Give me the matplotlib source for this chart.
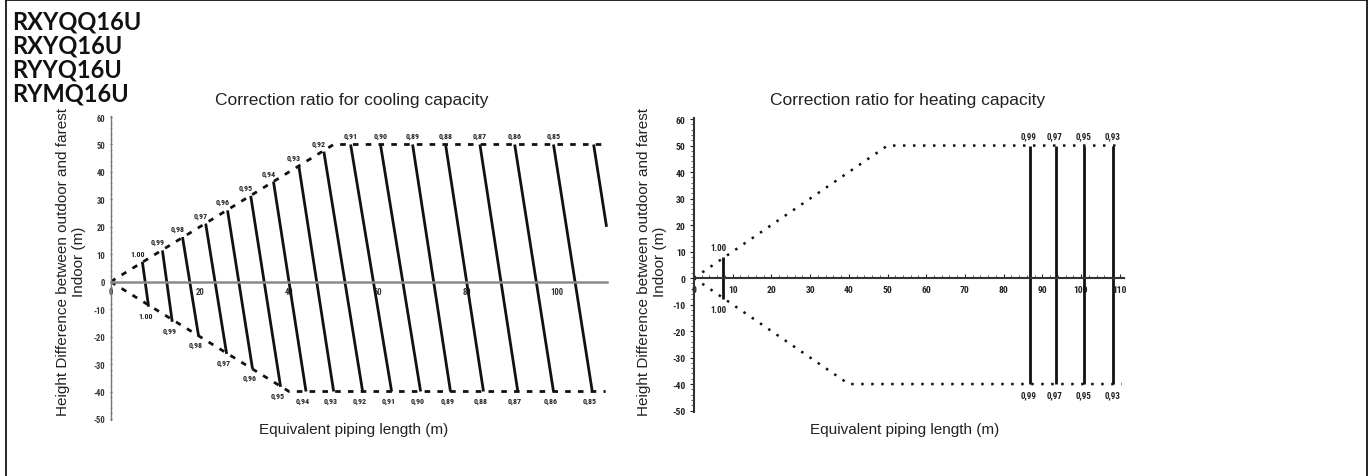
import matplotlib
matplotlib.use("Agg")
import matplotlib.pyplot as plt
from matplotlib import font_manager as fm
from matplotlib.lines import Line2D

avail = {f.name for f in fm.fontManager.ttflist}
def pick(*names):
    for n in names:
        if n in avail:
            return n
    return "DejaVu Sans"

SANS = pick("Liberation Sans", "Arial", "DejaVu Sans")
NARROW = pick("Liberation Sans Narrow", "DejaVu Sans Condensed", "Roboto Condensed", "Liberation Sans")
HEAD = pick("Lato", "Open Sans", "DejaVu Sans")

# ---------------- data ----------------
models = ["RXYQQ16U", "RXYQ16U", "RYYQ16U", "RYMQ16U"]

cool_title = "Correction ratio for cooling capacity"
heat_title = "Correction ratio for heating capacity"
xlabel_txt = "Equivalent piping length (m)"
ylabel_txt = "Height Difference between outdoor and farest\nIndoor (m)"

# cooling correction lines (top end / bottom end)
cool_labels = ["1.00", "0,99", "0,98", "0,97", "0,96", "0,95", "0,94", "0,93",
               "0,92", "0,91", "0,90", "0,89", "0,88", "0,87", "0,86", "0,85"]
cool_top_x = [7.1, 11.6, 16.1, 21.3, 26.2, 31.4, 36.5, 42.2, 47.8, 53.8,
              60.5, 67.7, 75.1, 82.8, 90.6, 99.3]
cool_top_y = [7.3, 11.4, 16.3, 21.2, 26.0, 31.3, 36.5, 42.0, 47.4, 50.0,
              50.0, 50.0, 50.0, 50.0, 50.0, 50.0]
cool_bot_x = [8.5, 13.8, 19.7, 26.0, 31.8, 38.1, 43.8, 50.0, 56.5, 63.0,
              69.5, 76.2, 83.6, 91.3, 99.3, 108.0]
cool_bot_y = [-9.1, -14.6, -19.7, -26.3, -31.7, -38.3, -40.0, -40.0, -40.0, -40.0,
              -40.0, -40.0, -40.0, -40.0, -40.0, -40.0]
# partial unlabeled line at right edge
cool_extra_x = [108.3, 111.2]
cool_extra_y = [50.0, 20.0]

cool_upper_x = [0, 50, 110.5]
cool_upper_y = [0, 50, 50]
cool_lower_x = [0, 40, 111]
cool_lower_y = [0, -40, -40]

cool_xticks = [0, 20, 40, 60, 80, 100]
cool_yticks = [60, 50, 40, 30, 20, 10, 0, -10, -20, -30, -40, -50]

# heating correction lines
heat_labels = ["1.00", "0,99", "0,97", "0,95", "0,93"]
heat_x = [7.4, 86.8, 93.5, 100.8, 108.3]
heat_top_y = [8.0, 50.0, 50.0, 50.0, 50.0]
heat_bot_y = [-8.0, -40.0, -40.0, -40.0, -40.0]

heat_upper_x = [0, 50, 110.5]
heat_upper_y = [0, 50, 50]
heat_lower_x = [0, 40, 110.5]
heat_lower_y = [0, -40, -40]

heat_xticks = [0, 10, 20, 30, 40, 50, 60, 70, 80, 90, 100, 110]
heat_yticks = [60, 50, 40, 30, 20, 10, 0, -10, -20, -30, -40, -50]

# ---------------- figure ----------------
W, H = 1370, 477
fig = plt.figure(figsize=(W / 100, H / 100), dpi=100)
fig.patch.set_facecolor("white")

def px(x0, y0, x1, y1):
    return [x0 / W, 1 - y1 / H, (x1 - x0) / W, (y1 - y0) / H]

# border
fig.add_artist(Line2D([6 / W, 6 / W], [0, 1], transform=fig.transFigure, color="black", lw=1.2))
fig.add_artist(Line2D([1367 / W, 1367 / W], [0, 1], transform=fig.transFigure, color="black", lw=1.2))
fig.add_artist(Line2D([6 / W, 1367 / W], [1 - 1 / H, 1 - 1 / H], transform=fig.transFigure, color="black", lw=1.2))

# model names
for i, m in enumerate(models):
    fig.text(12 / W, 1 - (22 + 24 * i) / H, m, fontsize=17, fontweight="bold",
             family=HEAD, va="center", ha="left", color="#111111")

cool_tick_font = dict(family=NARROW, fontweight="bold", fontsize=6.2)
heat_tick_font = dict(family=NARROW, fontweight="bold", fontsize=6.8)
cool_lab_font = dict(family=NARROW, fontweight="bold", fontsize=5.8)
heat_lab_font = dict(family=NARROW, fontweight="bold", fontsize=6.5)

# ---------- cooling ----------
ax1 = fig.add_axes(px(110.7, 115.3, 607.0, 422.7))
ax1.set_xlim(0, 111.3)
ax1.set_ylim(-51, 61)
for s in ["top", "right"]:
    ax1.spines[s].set_visible(False)
ax1.spines["bottom"].set_position(("data", 0))
ax1.spines["bottom"].set_color("#8a8a8a")
ax1.spines["bottom"].set_linewidth(1.8)
ax1.spines["left"].set_color("#777777")
ax1.spines["left"].set_linewidth(1.0)
ax1.spines["left"].set_linestyle((0, (1, 1)))
ax1.spines["left"].set_bounds(-50.5, 60.5)
ax1.set_xticks(cool_xticks)
ax1.set_xticklabels([str(t) for t in cool_xticks], **cool_tick_font)
ax1.set_yticks(cool_yticks)
ax1.set_yticklabels([str(t) for t in cool_yticks], **cool_tick_font)
ax1.tick_params(axis="x", length=0, pad=4, colors="#333333")
ax1.tick_params(axis="y", length=2, width=0.6, pad=3, colors="#333333", direction="inout")
ax1.set_yticks(range(-50, 61, 2), minor=True)
ax1.tick_params(axis="y", which="minor", length=2, width=0.5, direction="inout", color="#888888")
ax1.patch.set_alpha(0)

ax1.plot(cool_upper_x, cool_upper_y, color="#111111", lw=2.0, ls=(0, (2, 2.6)))
ax1.plot(cool_lower_x, cool_lower_y, color="#111111", lw=2.0, ls=(0, (2, 2.6)))
for lab, tx, ty, bx, by in zip(cool_labels, cool_top_x, cool_top_y, cool_bot_x, cool_bot_y):
    ax1.plot([tx, bx], [ty, by], color="#111111", lw=2.0, solid_capstyle="butt")
    if ty < 50:
        off = (-5, 5)
    else:
        off = (0, 5)
    ax1.annotate(lab, (tx, ty), xytext=off, textcoords="offset pixels",
                 ha="center", va="bottom", color="#222222", **cool_lab_font)
    ax1.annotate(lab, (bx, by), xytext=(-3, -5), textcoords="offset pixels",
                 ha="center", va="top", color="#222222", **cool_lab_font)
ax1.plot(cool_extra_x, cool_extra_y, color="#111111", lw=2.0, solid_capstyle="butt", clip_on=False)

# ---------- heating ----------
ax2 = fig.add_axes(px(694.0, 117.4, 1123.6, 414.2))
ax2.set_xlim(0, 111)
ax2.set_ylim(-51, 61)
for s in ["top", "right"]:
    ax2.spines[s].set_visible(False)
ax2.spines["bottom"].set_position(("data", 0))
ax2.spines["bottom"].set_color("#333333")
ax2.spines["bottom"].set_linewidth(1.5)
ax2.spines["left"].set_color("#333333")
ax2.spines["left"].set_linewidth(1.5)
ax2.spines["left"].set_bounds(-50.5, 60.5)
ax2.set_xticks(heat_xticks)
ax2.set_xticklabels([str(t) for t in heat_xticks], **heat_tick_font)
ax2.set_yticks(heat_yticks)
ax2.set_yticklabels([str(t) for t in heat_yticks], **heat_tick_font)
ax2.set_xticks(range(0, 111, 2), minor=True)
ax2.set_yticks(range(-50, 61, 2), minor=True)
ax2.tick_params(axis="x", which="major", length=3, width=0.8, direction="in", pad=5, colors="#222222")
ax2.tick_params(axis="x", which="minor", length=2, width=0.6, direction="in", color="#444444")
ax2.tick_params(axis="y", which="major", length=3, width=0.8, direction="out", pad=3, colors="#222222")
ax2.tick_params(axis="y", which="minor", length=2, width=0.6, direction="out", color="#444444")
ax2.patch.set_alpha(0)

ax2.plot(heat_upper_x, heat_upper_y, color="#111111", lw=1.8, ls=(0, (1, 3)))
ax2.plot(heat_lower_x, heat_lower_y, color="#111111", lw=1.8, ls=(0, (1, 3)))
for i, (lab, x, ty, by) in enumerate(zip(heat_labels, heat_x, heat_top_y, heat_bot_y)):
    ax2.plot([x, x], [ty, by], color="#111111", lw=2.0, solid_capstyle="butt")
    dx = -4 if i == 0 else -1
    ax2.annotate(lab, (x, ty), xytext=(dx, 5), textcoords="offset pixels",
                 ha="center", va="bottom", color="#222222", **heat_lab_font)
    ax2.annotate(lab, (x, by), xytext=(dx, -6), textcoords="offset pixels",
                 ha="center", va="top", color="#222222", **heat_lab_font)

# ---------- titles and axis labels ----------
text_font = dict(family=SANS, color="#222222")
fig.text(352 / W, 1 - 100 / H, cool_title, fontsize=12.5, ha="center", va="center", **text_font)
fig.text(908 / W, 1 - 100 / H, heat_title, fontsize=12.5, ha="center", va="center", **text_font)
fig.text(354 / W, 1 - 430 / H, xlabel_txt, fontsize=11, ha="center", va="center", **text_font)
fig.text(905 / W, 1 - 430 / H, xlabel_txt, fontsize=11, ha="center", va="center", **text_font)
fig.text(71 / W, 1 - 262 / H, ylabel_txt, fontsize=11, rotation=90, ha="center", va="center",
         multialignment="center", linespacing=1.15, **text_font)
fig.text(652 / W, 1 - 262 / H, ylabel_txt, fontsize=11, rotation=90, ha="center", va="center",
         multialignment="center", linespacing=1.15, **text_font)

fig.savefig("out.png", dpi=100, facecolor="white")
